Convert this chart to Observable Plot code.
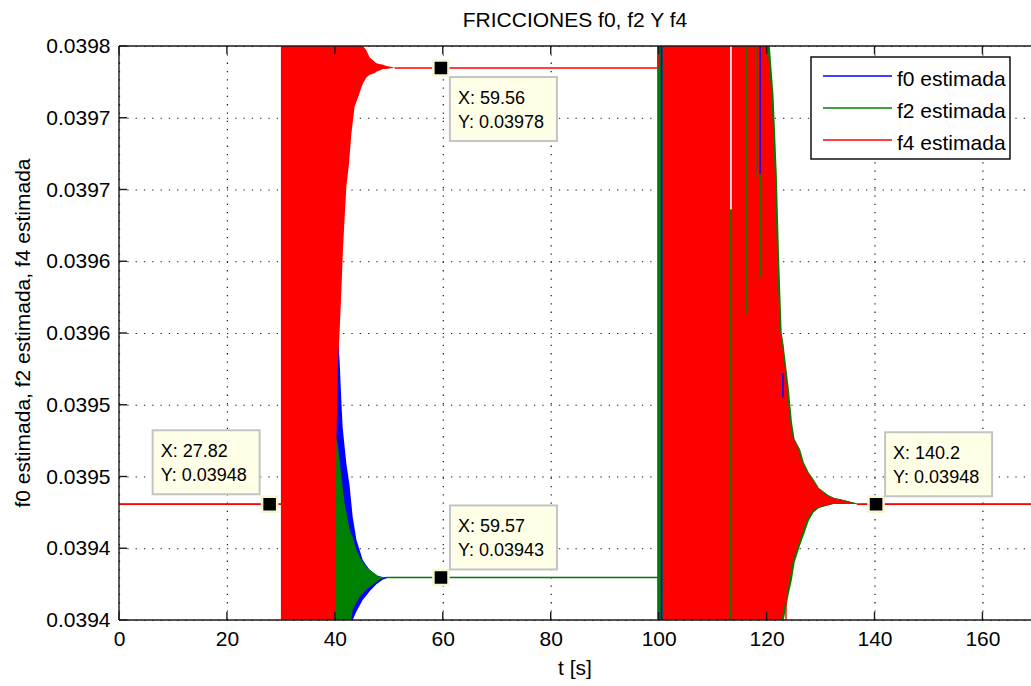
<!DOCTYPE html>
<html><head><meta charset="utf-8">
<script src="https://cdn.jsdelivr.net/npm/d3@7"></script>
<script src="https://cdn.jsdelivr.net/npm/@observablehq/plot@0.6"></script>
<style>
html,body{margin:0;padding:0;background:#fff;}
#chart svg{display:block;}
</style></head>
<body><div id="chart"></div>
<script>
// ---------------- data ----------------
const titleText = "FRICCIONES f0, f2 Y f4";
const xLabel = "t [s]";
const yLabel = "f0 estimada, f2 estimada, f4 estimada";
const seriesNames = ["f0 estimada", "f2 estimada", "f4 estimada"];

const xTicks = [0, 20, 40, 60, 80, 100, 120, 140, 160];
const yTicks = [0.03940, 0.03945, 0.03950, 0.03955, 0.03960, 0.03965, 0.03970, 0.03975, 0.03980];
const yTickLabels = ["0.0394", "0.0394", "0.0395", "0.0395", "0.0396", "0.0396", "0.0397", "0.0397", "0.0398"];

// steady segments: [t start, t end, value]
const f0Flat = [[0, 40.0, 0.039481], [50.2, 100.3, 0.03943], [137.0, 169, 0.039481]];
const f2Flat = [[0, 40.0, 0.039481], [49.5, 99.72, 0.03943], [137.0, 169, 0.039481]];
const f4Flat = [[0, 30.0, 0.039481], [51.08, 99.8, 0.039785], [136.7, 169, 0.039481]];
const f4Jump = [[99.8, 0.039785, 0.0400]];

// oscillation envelopes: [t, lower, upper]
const f0Env1 = [
  [40.0, 0.0393, 0.0400], [40.58, 0.0393, 0.0396], [40.89, 0.0393, 0.03958],
  [41.21, 0.0393, 0.039552], [41.45, 0.0393, 0.039534], [42.13, 0.0393, 0.039509],
  [42.75, 0.0393, 0.039493], [43.06, 0.0394, 0.039481], [43.3, 0.0394, 0.039472],
  [43.99, 0.039406, 0.039456], [45.15, 0.039414, 0.039442], [45.84, 0.039417, 0.039438],
  [46.45, 0.03942, 0.039435], [47.69, 0.039425, 0.039431], [48.86, 0.039428, 0.03943],
  [50.2, 0.03943, 0.03943]
];
const f2Env1 = [
  [40.0, 0.0393, 0.0400], [40.1, 0.0393, 0.03953], [40.53, 0.0393, 0.039523],
  [41.21, 0.0393, 0.0395], [41.82, 0.0393, 0.039481], [42.75, 0.0393, 0.039463],
  [43.0, 0.0394, 0.03946], [43.3, 0.039407, 0.039458], [43.99, 0.039412, 0.039449],
  [44.6, 0.039416, 0.039444], [45.84, 0.039421, 0.039437], [46.45, 0.039423, 0.039435],
  [48.3, 0.039428, 0.03943], [49.5, 0.03943, 0.03943]
];
const f4Env1 = [
  [30.0, 0.0393, 0.0400], [40.0, 0.0393, 0.0400], [40.05, 0.039449, 0.0400],
  [40.28, 0.039523, 0.0400], [40.58, 0.03958, 0.0400], [40.89, 0.039602, 0.0400],
  [41.21, 0.03963, 0.0400], [41.5, 0.039658, 0.0400], [41.82, 0.039681, 0.0400],
  [42.13, 0.039702, 0.0400], [42.62, 0.039718, 0.0400], [43.06, 0.039739, 0.0400],
  [43.67, 0.039758, 0.0400], [44.28, 0.039764, 0.0400], [44.91, 0.039771, 0.0400],
  [45.21, 0.039774, 0.03980], [45.84, 0.039778, 0.039797], [46.45, 0.03978, 0.039792],
  [47.38, 0.039781, 0.039789], [47.69, 0.039782, 0.039788], [48.92, 0.039784, 0.039787],
  [49.55, 0.039784, 0.039786], [51.08, 0.039785, 0.039785]
];
const f0Env2 = [
  [100.3, 0.0393, 0.0400], [120.3, 0.0393, 0.0400], [120.4, 0.0393, 0.03980],
  [121.1, 0.0393, 0.039766], [121.7, 0.0393, 0.039712], [122.1, 0.0393, 0.039658],
  [122.6, 0.0393, 0.039602], [122.95, 0.0393, 0.039595], [123.0, 0.0394, 0.039594],
  [123.2, 0.039404, 0.039586], [123.7, 0.039414, 0.03957], [123.9, 0.039418, 0.039563],
  [124.5, 0.039428, 0.039539], [125.0, 0.03944, 0.039527], [126.0, 0.039452, 0.039519],
  [126.7, 0.039459, 0.03951], [127.6, 0.039469, 0.039503], [128.5, 0.039475, 0.039498],
  [129.5, 0.039478, 0.039492], [131.3, 0.03948, 0.039487], [132.4, 0.039481, 0.039485],
  [133.7, 0.039481, 0.039484], [136.9, 0.039481, 0.039481]
];
const f2Env2 = [
  [99.72, 0.0393, 0.0400], [120.5, 0.0393, 0.0400], [120.6, 0.0393, 0.03980],
  [121.3, 0.0393, 0.039765], [121.9, 0.0393, 0.03971], [122.3, 0.0393, 0.039655],
  [122.8, 0.0393, 0.0396], [123.1, 0.0393, 0.039593], [123.15, 0.0394, 0.039592],
  [123.4, 0.039404, 0.039584], [123.9, 0.039414, 0.039568], [124.1, 0.039418, 0.039562],
  [124.7, 0.039428, 0.039538], [125.2, 0.03944, 0.039526], [126.2, 0.039452, 0.039519],
  [126.9, 0.039459, 0.03951], [127.8, 0.039469, 0.039503], [128.7, 0.039475, 0.039498],
  [129.7, 0.039478, 0.039492], [131.5, 0.03948, 0.039487], [132.6, 0.039481, 0.039485],
  [134.0, 0.039481, 0.039484], [137.0, 0.039481, 0.039481]
];
const f4Env2 = [
  [100.75, 0.0393, 0.0400], [120.0, 0.0393, 0.0400], [120.15, 0.0393, 0.03980],
  [120.9, 0.0393, 0.039767], [121.5, 0.0393, 0.039714], [121.9, 0.0393, 0.03966],
  [122.4, 0.0393, 0.039604], [122.75, 0.0393, 0.039596], [122.8, 0.0394, 0.039595],
  [123.0, 0.039404, 0.039588], [123.5, 0.039414, 0.039572], [123.7, 0.039418, 0.039565],
  [124.3, 0.039428, 0.03954], [124.8, 0.03944, 0.039528], [125.8, 0.039452, 0.03952],
  [126.5, 0.039459, 0.039511], [127.4, 0.039469, 0.039504], [128.3, 0.039475, 0.039499],
  [129.3, 0.039478, 0.039493], [129.8, 0.039479, 0.039491], [131.1, 0.03948, 0.039487],
  [132.2, 0.039481, 0.039485], [133.5, 0.039481, 0.039484], [135.4, 0.039481, 0.039482],
  [136.7, 0.039481, 0.039481]
];

// single samples visible inside the f4 band: [t, from, to]
const f0Spikes = [[100.45, 0.0393, 0.0400], [118.7, 0.0400, 0.039711], [122.95, 0.039572, 0.039555]];
const f2Spikes = [[113.3, 0.0393, 0.039686], [116.1, 0.0400, 0.039614], [117.9, 0.0400, 0.039708], [118.7, 0.039711, 0.039639]];
const f4Gaps = [[113.3, 0.0400, 0.039686]];
const f4Spikes = [[123.5, 0.039437, 0.0393]];

// data tips
const tipT = [27.82, 59.56, 59.57, 140.2];
const tipV = [0.039481, 0.039785, 0.03943, 0.039481];
const tipXText = ["27.82", "59.56", "59.57", "140.2"];
const tipYText = ["0.03948", "0.03978", "0.03943", "0.03948"];
const tipSide = ["upper-left", "lower-right", "upper-right", "upper-right"];

// ---------------- drawing ----------------
const colors = ["#0000ff", "#008000", "#ff0000"];
const W = 1031, H = 686, ML = 119, MT = 46, MB = 66, MR = 0;
const FONT = "'Liberation Sans', Arial, Helvetica, sans-serif";

const area = (env, c) => Plot.areaY(env, {x: d => d[0], y1: d => d[1], y2: d => d[2], fill: c, curve: "linear", clip: true});
const flat = (segs, c, w) => Plot.ruleY(segs, {x1: d => d[0], x2: d => d[1], y: d => d[2], stroke: c, strokeWidth: w, clip: true});
const vrule = (segs, c, w) => Plot.ruleX(segs, {x: d => d[0], y1: d => d[1], y2: d => d[2], stroke: c, strokeWidth: w, clip: true});

const chart = Plot.plot({
  width: W, height: H,
  marginLeft: ML, marginRight: MR, marginTop: MT, marginBottom: MB,
  style: {background: "#fff", fontFamily: FONT, fontSize: "21px", color: "#000", overflow: "visible"},
  x: {domain: [0, 169], label: null},
  y: {domain: [0.0394, 0.0398], label: null},
  marks: [
    Plot.gridX(xTicks, {stroke: "#000", strokeOpacity: 0.9, strokeWidth: 1.2, strokeDasharray: "1.3,7"}),
    Plot.gridY(yTicks, {stroke: "#000", strokeOpacity: 0.9, strokeWidth: 1.2, strokeDasharray: "1.3,7"}),
    area(f0Env1, colors[0]), area(f0Env2, colors[0]), flat(f0Flat, colors[0], 0.8),
    area(f2Env1, colors[1]), area(f2Env2, colors[1]), flat(f2Flat, colors[1], 1.6),
    area(f4Env1, colors[2]), area(f4Env2, colors[2]), flat(f4Flat, colors[2], 1.6),
    vrule(f4Jump, colors[2], 1.5),
    vrule(f4Gaps, "#fff", 1.6),
    vrule(f0Spikes, colors[0], 1.6),
    vrule(f2Spikes, colors[1], 1.6),
    vrule(f4Spikes, colors[2], 1.4),
    Plot.axisX({ticks: xTicks, tickSize: 0, tickPadding: 11, label: null, fontSize: 21}),
    Plot.axisY({ticks: yTicks, tickSize: 0, tickPadding: 9, label: null, fontSize: 21,
      tickFormat: d => yTickLabels[yTicks.findIndex(v => Math.abs(v - d) < 1e-9)]}),
    Plot.dot(tipT.map((t, i) => ({t, v: tipV[i]})), {x: "t", y: "v", symbol: "square", r: 8.5,
      fill: "#000", stroke: "#f6f6d2", strokeWidth: 2.5})
  ]
});
document.getElementById("chart").appendChild(chart);

const sx = chart.scale("x"), sy = chart.scale("y");
const svg = d3.select(chart);
const x0 = ML, x1 = W - MR, y0 = MT, y1 = H - MB;

// axes box lines and inward ticks
const ax = svg.append("g").attr("stroke", "#1a1a1a").attr("stroke-width", 1.4).attr("fill", "none");
ax.append("line").attr("x1", x0).attr("x2", x0).attr("y1", y0).attr("y2", y1);
ax.append("line").attr("x1", x0).attr("x2", x1).attr("y1", y0).attr("y2", y0);
ax.append("line").attr("x1", x0).attr("x2", x1).attr("y1", y1).attr("y2", y1);
xTicks.forEach(t => {
  const px = sx.apply(t);
  ax.append("line").attr("x1", px).attr("x2", px).attr("y1", y1).attr("y2", y1 - 8);
  ax.append("line").attr("x1", px).attr("x2", px).attr("y1", y0).attr("y2", y0 + 8);
});
yTicks.forEach(v => {
  const py = sy.apply(v);
  ax.append("line").attr("x1", x0).attr("x2", x0 + 8).attr("y1", py).attr("y2", py);
});

// titles
const cx = (x0 + x1) / 2;
const txt = (sel) => sel.attr("font-family", FONT).attr("fill", "#000");
txt(svg.append("text")).attr("x", cx).attr("y", 27).attr("text-anchor", "middle")
  .attr("font-size", 21).text(titleText);
txt(svg.append("text")).attr("x", cx).attr("y", 675).attr("text-anchor", "middle")
  .attr("font-size", 21).text(xLabel);
txt(svg.append("text")).attr("transform", `translate(30,${(y0 + y1) / 2}) rotate(-90)`).attr("text-anchor", "middle")
  .attr("font-size", 21).text(yLabel);

// data tip boxes
const BW = 107, BH = 64, OFF = 9.5;
tipT.forEach((t, i) => {
  const px = sx.apply(t), py = sy.apply(tipV[i]);
  let bx, by;
  if (tipSide[i] === "upper-left") { bx = px - OFF - BW; by = py - OFF - BH; }
  else if (tipSide[i] === "lower-right") { bx = px + OFF; by = py + OFF; }
  else { bx = px + OFF; by = py - 7.5 - BH; }
  const g = svg.append("g");
  g.append("rect").attr("x", bx).attr("y", by).attr("width", BW).attr("height", BH)
    .attr("fill", "#ffffe8").attr("stroke", "#c4c4c4").attr("stroke-width", 2);
  txt(g.append("text")).attr("x", bx + 8).attr("y", by + 27).attr("text-anchor", "start")
    .attr("font-size", 18).text("X: " + tipXText[i]);
  txt(g.append("text")).attr("x", bx + 8).attr("y", by + 51).attr("text-anchor", "start")
    .attr("font-size", 18).text("Y: " + tipYText[i]);
});

// legend
const lg = svg.append("g");
lg.append("rect").attr("x", 811).attr("y", 57).attr("width", 199).attr("height", 102)
  .attr("fill", "#fff").attr("stroke", "#000").attr("stroke-width", 1.4);
seriesNames.forEach((name, i) => {
  const ry = 76 + i * 32;
  lg.append("line").attr("x1", 823).attr("x2", 892).attr("y1", ry).attr("y2", ry)
    .attr("stroke", colors[i]).attr("stroke-width", 1.6);
  txt(lg.append("text")).attr("x", 897).attr("y", ry + 10).attr("text-anchor", "start")
    .attr("font-size", 21).text(name);
});
</script>
</body></html>
